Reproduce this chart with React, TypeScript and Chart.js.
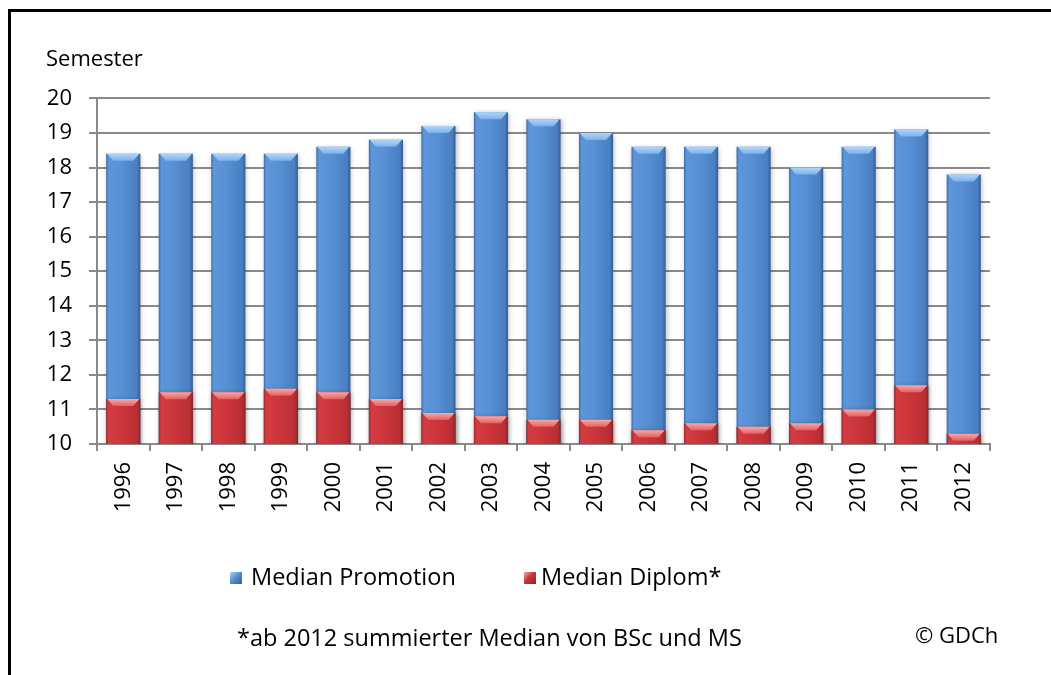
import React, { useEffect, useRef } from "react";
import { Chart, registerables } from "chart.js";

Chart.register(...registerables);

const years = ["1996", "1997", "1998", "1999", "2000", "2001", "2002", "2003", "2004", "2005", "2006", "2007", "2008", "2009", "2010", "2011", "2012"];
const promotion = [18.4, 18.4, 18.4, 18.4, 18.6, 18.8, 19.2, 19.6, 19.4, 19.0, 18.6, 18.6, 18.6, 18.0, 18.6, 19.1, 17.8];
const diplom = [11.3, 11.5, 11.5, 11.6, 11.5, 11.3, 10.9, 10.8, 10.7, 10.7, 10.4, 10.6, 10.5, 10.6, 11.0, 11.7, 10.3];
const seriesNames = ["Median Promotion", "Median Diplom*"];
const yMin = 10;
const yMax = 20;
const yStep = 1;
const axisTitle = "Semester";
const footnote = "*ab 2012 summierter Median von BSc und MS";
const copyright = "© GDCh";

const FONT = "'Open Sans', sans-serif";
const GRID = "#8a8a8a";

const BLUE = {
  edgeL: "#3c6aa3",
  lite: "#5d96da",
  mid: "#5790d4",
  dark: "#4a7fc2",
  edgeR: "#345d93",
  bevelTop: "#b0d6fa",
  bevelBot: "#7db1ea",
};
const RED = {
  edgeL: "#9c2a2e",
  lite: "#d43c41",
  mid: "#cc353a",
  dark: "#b92f34",
  edgeR: "#8e2529",
  bevelTop: "#f6aaaa",
  bevelBot: "#e4605f",
};

function barFill(pal: typeof BLUE) {
  return (ctx: any) => {
    const chart = ctx.chart;
    const xs = chart.scales && chart.scales.x;
    if (!xs || ctx.type !== "data") return pal.mid;
    const cx = xs.getPixelForValue(ctx.dataIndex);
    const cw = Math.abs(xs.getPixelForValue(1) - xs.getPixelForValue(0));
    const w = cw * 0.65;
    if (!isFinite(cx) || !isFinite(w) || w <= 0) return pal.mid;
    const g = chart.ctx.createLinearGradient(cx - w / 2, 0, cx + w / 2, 0);
    g.addColorStop(0, pal.edgeL);
    g.addColorStop(0.07, pal.lite);
    g.addColorStop(0.45, pal.mid);
    g.addColorStop(0.9, pal.dark);
    g.addColorStop(1, pal.edgeR);
    return g;
  };
}

const bevelPlugin = {
  id: "bevel",
  beforeDatasetDraw(chart: any) {
    const c = chart.ctx;
    c.save();
    c.shadowColor = "rgba(0,0,0,0.28)";
    c.shadowBlur = 5;
    c.shadowOffsetX = 1;
    c.shadowOffsetY = 1;
  },
  afterDatasetDraw(chart: any, args: any) {
    const c = chart.ctx;
    c.restore();
    const pal = args.index === 0 ? BLUE : RED;
    c.save();
    args.meta.data.forEach((bar: any) => {
      const { x, y, width, base } = bar.getProps(["x", "y", "width", "base"], true);
      const h = Math.min(7, Math.abs(base - y));
      if (h <= 0) return;
      const inset = Math.min(7, width / 4);
      const l = x - width / 2;
      const r = x + width / 2;
      const g = c.createLinearGradient(0, y, 0, y + h);
      g.addColorStop(0, pal.bevelTop);
      g.addColorStop(1, pal.bevelBot);
      c.beginPath();
      c.moveTo(l + 1, y);
      c.lineTo(r - 1, y);
      c.lineTo(r - inset, y + h);
      c.lineTo(l + inset, y + h);
      c.closePath();
      c.fillStyle = g;
      c.fill();
    });
    c.restore();
  },
};

export default function App() {
  const ref = useRef<HTMLCanvasElement | null>(null);

  useEffect(() => {
    if (!ref.current) return;
    const chart = new Chart(ref.current, {
      type: "bar",
      data: {
        labels: years,
        datasets: [
          {
            label: seriesNames[0],
            data: promotion,
            backgroundColor: barFill(BLUE),
            borderWidth: 0,
            order: 1,
          },
          {
            label: seriesNames[1],
            data: diplom,
            backgroundColor: barFill(RED),
            borderWidth: 0,
            order: 0,
          },
        ],
      },
      plugins: [bevelPlugin],
      options: {
        responsive: false,
        animation: false,
        datasets: { bar: { barPercentage: 0.65, categoryPercentage: 1 } },
        layout: { padding: { left: 46, right: 61, top: 0, bottom: 151 } },
        plugins: {
          legend: { display: false },
          tooltip: { enabled: false },
          title: {
            display: true,
            text: axisTitle,
            align: "start",
            color: "#000",
            font: { family: FONT, size: 22, weight: "normal" },
            padding: { top: 47, bottom: 25 },
          },
        },
        scales: {
          x: {
            stacked: true,
            grid: {
              offset: true,
              drawOnChartArea: false,
              drawTicks: true,
              tickLength: 7,
              color: GRID,
              lineWidth: 2,
            },
            border: { color: GRID, width: 2 },
            ticks: {
              minRotation: 90,
              maxRotation: 90,
              autoSkip: false,
              padding: 11,
              color: "#000",
              font: { family: FONT, size: 22 },
            },
            afterFit: (s: any) => {
              s.height = 80;
            },
          },
          y: {
            stacked: false,
            min: yMin,
            max: yMax,
            ticks: {
              stepSize: yStep,
              padding: 17,
              color: "#000",
              font: { family: FONT, size: 22 },
            },
            grid: { color: GRID, lineWidth: 2, tickLength: 8 },
            border: { color: GRID, width: 2 },
            afterFit: (s: any) => {
              s.width = 51;
            },
          },
        },
      } as any,
    });
    return () => chart.destroy();
  }, []);

  const txt: React.CSSProperties = {
    position: "absolute",
    fontFamily: FONT,
    fontSize: 23.5,
    lineHeight: "32px",
    color: "#000",
    whiteSpace: "nowrap",
  };
  const marker = (pal: typeof BLUE): React.CSSProperties => ({
    position: "absolute",
    width: 12,
    height: 12,
    background: `linear-gradient(135deg, ${pal.bevelTop} 0%, ${pal.mid} 45%, ${pal.edgeR} 100%)`,
  });

  return (
    <div style={{ position: "absolute", left: 0, top: 0, width: 1051, height: 675, overflow: "hidden", background: "#fff" }}>
      <div
        style={{
          position: "absolute",
          left: 8,
          top: 9,
          width: 1043,
          height: 666,
          boxSizing: "border-box",
          borderLeft: "3px solid #000",
          borderTop: "3px solid #000",
        }}
      />
      <canvas ref={ref} width={1051} height={675} style={{ position: "absolute", left: 0, top: 0 }} />
      <div style={{ ...marker(BLUE), left: 230, top: 572 }} />
      <div style={{ ...txt, left: 251, top: 560 }}>{seriesNames[0]}</div>
      <div style={{ ...marker(RED), left: 524, top: 572 }} />
      <div style={{ ...txt, left: 541, top: 560 }}>{seriesNames[1]}</div>
      <div style={{ ...txt, left: 237, top: 621 }}>{footnote}</div>
      <div style={{ ...txt, fontSize: 22, lineHeight: "30px", left: 915, top: 619 }}>{copyright}</div>
    </div>
  );
}
